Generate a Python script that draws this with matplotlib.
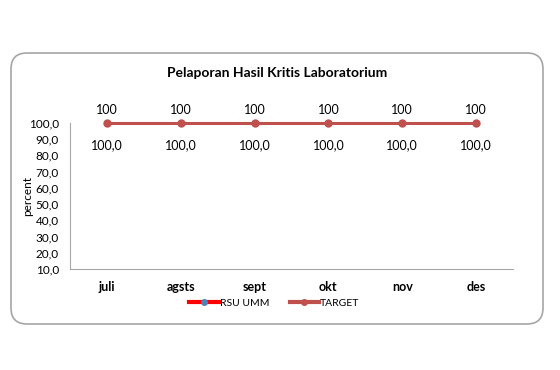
import numpy as np
import matplotlib.pyplot as plt
from matplotlib.patches import FancyBboxPatch
from matplotlib.ticker import FuncFormatter

plt.rcParams['font.family'] = ['Lato', 'DejaVu Sans']

bulan = ['juli', 'agsts', 'sept', 'okt', 'nov', 'des']
rsu_umm = [100, 100, 100, 100, 100, 100]
target = [100, 100, 100, 100, 100, 100]
yticks = [10, 20, 30, 40, 50, 60, 70, 80, 90, 100]

fig = plt.figure(figsize=(5.6, 3.7), dpi=100)

# rounded chart border
box = FancyBboxPatch((0.11, 0.46), 5.32, 2.71, boxstyle='round,pad=0,rounding_size=0.16',
                     transform=fig.dpi_scale_trans, facecolor='white',
                     edgecolor='#a6a6a6', linewidth=1.2, zorder=-1)
fig.patches.append(box)

ax = fig.add_axes([0.125, 0.273, 0.791, 0.395])
ax.set_zorder(1)
ax.set_facecolor('none')
x = np.arange(len(bulan))

ax.plot(x, rsu_umm, color='#ff0000', linewidth=2, marker='o', markersize=4,
        markerfacecolor='#4f81bd', markeredgecolor='#4f81bd', label='RSU UMM', zorder=2,
        clip_on=False)
ax.plot(x, target, color='#c0504d', linewidth=2.2, marker='o', markersize=5,
        markerfacecolor='#c0504d', markeredgecolor='#c0504d', label='TARGET', zorder=3,
        clip_on=False)

for xi, v in zip(x, rsu_umm):
    ax.annotate(f'{v}', (xi, v), xytext=(0, 5), textcoords='offset points',
                ha='center', va='bottom', fontsize=9, annotation_clip=False)
for xi, v in zip(x, target):
    ax.annotate(f'{v:.1f}'.replace('.', ','), (xi, v), xytext=(0, -12), textcoords='offset points',
                ha='center', va='top', fontsize=9, annotation_clip=False)

ax.set_xlim(-0.5, 5.5)
ax.set_ylim(10, 100)
ax.set_yticks(yticks)
ax.yaxis.set_major_formatter(FuncFormatter(lambda v, p: f'{v:.1f}'.replace('.', ',')))
ax.set_xticks(x)
ax.set_xticklabels(bulan, fontweight='bold', fontsize=9)
ax.tick_params(axis='y', length=0, labelsize=8.5, pad=8)
ax.tick_params(axis='x', length=0, pad=9)
for s in ['top', 'right']:
    ax.spines[s].set_visible(False)
for s in ['left', 'bottom']:
    ax.spines[s].set_color('#a6a6a6')
ax.set_ylabel('percent', fontsize=8.5, labelpad=-3)

fig.text(0.495, 0.803, 'Pelaporan Hasil Kritis Laboratorium', ha='center', va='center',
         fontsize=10, fontweight='bold')

leg = fig.legend(loc='center', bbox_to_anchor=(0.49, 0.181), ncol=2, frameon=False,
                 fontsize=7.5, handlelength=2.8, handletextpad=0.1, columnspacing=2.0)
for h in leg.get_lines():
    h.set_linewidth(3)
    h.set_markersize(4)

fig.savefig('out.png', dpi=100)
